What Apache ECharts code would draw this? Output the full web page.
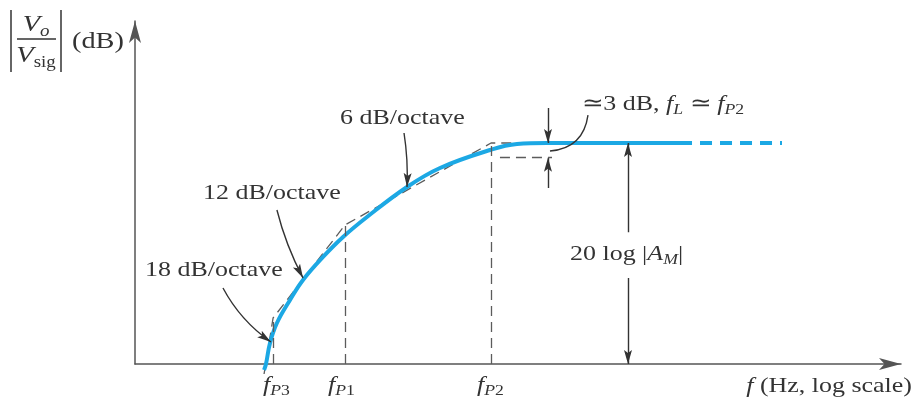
<!DOCTYPE html>
<html>
<head>
<meta charset="utf-8">
<script src="https://cdn.jsdelivr.net/npm/echarts@6/dist/echarts.min.js"></script>
<style>html,body{margin:0;padding:0;background:#fff}#main{width:914px;height:404px}</style>
</head>
<body>
<div id="main"></div>
<script>
// corner frequencies (Hz) and levels (dB)
var fP3 = 5.26, fP1 = 12.49, fP2 = 72.3;
var midbandDb = 45.1, minus3Db = 42.1;

// actual low-frequency response |Vo/Vsig|
var respF  = [4.72, 4.83, 5.07, 5.51, 6.45, 7.54, 9.59, 12.2, 16.27, 26.33, 39.15, 71.4, 98.8, 141.7, 701.5];
var respDb = [-1.22, 0, 4.29, 8.37, 13.06, 17.14, 21.84, 25.92, 30.0, 36.12, 40.0, 43.67, 44.9, 45.1, 45.1];
var extF   = [701.5, 2391];   // dashed continuation of the midband

// straight-line asymptotes: 18, 12, 6, 0 dB/octave
var asymF  = [4.72, fP3, fP1, fP2, 138.4];
var asymDb = [-2.04, 9.39, 28.37, midbandDb, midbandDb];
var minus3F = [80.5, 150.5];

// leader arrows [fromF, fromDb, toF, toDb]
var arrow18 = [2.88, 15.51, 5.13, 4.49];
var arrow12 = [5.51, 31.43, 7.54, 17.55];
var arrow6  = [25.4, 47.14, 26.33, 36.12];
var leader3 = [232, 50.8, 146.9, 43.47];
var dbMarkF = 143.4;   // 3 dB arrows
var dbMarkTop = 52.24, dbMarkBottom = 35.9;
var amF = 375.3;       // 20 log|AM| arrows
var amLabelTop = 26.9, amLabelBottom = 17.55;

var ink = '#333', gray = '#5c5c5c', blue = '#1ca8e4';
var serif = 'Liberation Serif';
var sx = 1.18;
// notched arrow head, tip sits at the centre of its box
var arrowHead = 'path://M4,-14L4,-14M4,0L8,14L4,11L0,14Z';

var rich = {
    n:  {fontFamily: serif, fontSize: 22, lineHeight: 28, fill: ink},
    i:  {fontFamily: serif, fontSize: 22, lineHeight: 28, fill: ink, fontStyle: 'italic'},
    si: {fontFamily: serif, fontSize: 15, lineHeight: 14, fill: ink, fontStyle: 'italic', verticalAlign: 'bottom'},
    sn: {fontFamily: serif, fontSize: 15, lineHeight: 14, fill: ink, verticalAlign: 'bottom'},
    I:  {fontFamily: serif, fontSize: 24, lineHeight: 30, fill: ink, fontStyle: 'italic'},
    sI: {fontFamily: serif, fontSize: 16, lineHeight: 15, fill: ink, fontStyle: 'italic', verticalAlign: 'bottom'},
    sN: {fontFamily: serif, fontSize: 16, lineHeight: 15, fill: ink, verticalAlign: 'bottom'},
    N:  {fontFamily: serif, fontSize: 24, lineHeight: 30, fill: ink}
};

function pair(f, d) {
    return f.map(function (v, k) { return [v, d[k]]; });
}
function seg(a, curv) {
    return {coords: [[a[0], a[1]], [a[2], a[3]]], lineStyle: {curveness: curv || 0}};
}
function vline(f, d0, d1) {
    return [{coord: [f, d0]}, {coord: [f, d1]}];
}
function label(txt, x, y, align) {
    return {
        type: 'text', x: x, y: y, scaleX: sx, originX: 0, originY: 0,
        style: {text: txt, align: align || 'left', verticalAlign: 'middle',
            fontFamily: serif, fontSize: 22, fill: ink, rich: rich}
    };
}

var myChart = echarts.init(document.getElementById('main'));

var option = {
    animation: false,
    grid: {left: 135, right: 13, top: 21, bottom: 40},
    xAxis: {
        type: 'log', min: 1, max: 10000,
        axisLine: {onZero: false, symbol: ['none', 'arrow'], symbolSize: [9, 22], lineStyle: {color: '#555', width: 1.5}},
        axisTick: {show: false}, axisLabel: {show: false}, splitLine: {show: false}
    },
    yAxis: {
        type: 'value', min: 0, max: 70,
        axisLine: {show: true, symbol: ['none', 'arrow'], symbolSize: [9, 22], lineStyle: {color: '#555', width: 1.5}},
        axisTick: {show: false}, axisLabel: {show: false}, splitLine: {show: false}
    },
    series: [
        {
            name: 'asymptotes', type: 'line', data: pair(asymF, asymDb), clip: false,
            symbol: 'none', silent: true, z: 2,
            lineStyle: {color: gray, width: 1.3, type: [10, 6]},
            markLine: {
                silent: true, symbol: 'none', label: {show: false},
                lineStyle: {color: gray, width: 1.3, type: [10, 6]},
                data: [
                    vline(fP3, 0, asymDb[1]),
                    vline(fP1, 0, asymDb[2]),
                    vline(fP2, 0, midbandDb),
                    [{coord: [minus3F[0], minus3Db]}, {coord: [minus3F[1], minus3Db]}]
                ]
            }
        },
        {
            name: 'response', type: 'line', data: pair(respF, respDb), clip: false,
            symbol: 'none', silent: true, z: 3, smooth: 0.4,
            lineStyle: {color: blue, width: 4}
        },
        {
            name: 'midband', type: 'line', data: [[extF[0], midbandDb], [extF[1], midbandDb]],
            symbol: 'none', silent: true, z: 3,
            lineStyle: {color: blue, width: 4, type: [12, 8]}
        },
        {
            name: 'arrows', type: 'lines', coordinateSystem: 'cartesian2d', silent: true, z: 4,
            color: ink,
            symbol: ['none', arrowHead], symbolSize: [8, [8, 28]],
            lineStyle: {color: ink, width: 1.4, opacity: 1},
            data: [
                seg(arrow18, -0.12),
                seg(arrow12, -0.06),
                seg(arrow6, 0.05),
                seg([dbMarkF, dbMarkTop, dbMarkF, midbandDb]),
                seg([dbMarkF, dbMarkBottom, dbMarkF, minus3Db]),
                seg([amF, amLabelTop, amF, midbandDb]),
                seg([amF, amLabelBottom, amF, 0])
            ]
        },
        {
            name: 'leader', type: 'lines', coordinateSystem: 'cartesian2d', silent: true, z: 4,
            symbol: 'none',
            lineStyle: {color: ink, width: 1.4, opacity: 1},
            data: [seg(leader3, 0.4)]
        }
    ],
    graphic: [
        // y axis title |Vo/Vsig| (dB)
        {type: 'line', shape: {x1: 11, y1: 10, x2: 11, y2: 72}, style: {stroke: ink, lineWidth: 1.5}},
        {type: 'line', shape: {x1: 61, y1: 10, x2: 61, y2: 72}, style: {stroke: ink, lineWidth: 1.5}},
        {type: 'line', shape: {x1: 17, y1: 39, x2: 56, y2: 39}, style: {stroke: ink, lineWidth: 1.3}},
        label('{I|V}{sI|o}', 36, 25, 'center'),
        label('{I|V}{sN|sig}', 36, 56, 'center'),
        label('{N|(dB)}', 72, 42),
        label('18 dB/octave', 145, 270),
        label('12 dB/octave', 203, 193),
        label('6 dB/octave', 340, 118),
        label('{n|\u22433 dB, }{i|f}{si|L}{n| \u2243 }{i|f}{si|P}{sn|2}', 582, 104),
        label('{n|20 log }{n||}{i|A}{si|M}{n||}', 570, 254),
        label('{i|f}{si|P}{sn|3}', 263, 385),
        label('{i|f}{si|P}{sn|1}', 328, 385),
        label('{i|f}{si|P}{sn|2}', 477, 385),
        label('{i|f}{n| (Hz, log scale)}', 912, 386, 'right')
    ]
};
myChart.setOption(option);

window.addEventListener('resize', function () {
    myChart.resize();
});
</script>
</body>
</html>
